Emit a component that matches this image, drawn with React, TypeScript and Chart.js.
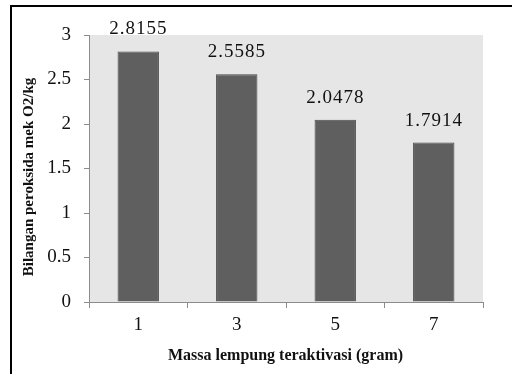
import React, { useEffect, useRef } from "react";
import { Chart, registerables } from "chart.js";

Chart.register(...registerables);

const categories = ["1", "3", "5", "7"];
const values = [2.8155, 2.5585, 2.0478, 1.7914];
const yTicks = [0, 0.5, 1, 1.5, 2, 2.5, 3];
const yTitle = "Bilangan peroksida mek O2/kg";
const xTitle = "Massa lempung teraktivasi (gram)";

const SERIF = "'Liberation Serif', 'Times New Roman', serif";

const frameAndBg = {
  id: "frameAndBg",
  beforeDraw(chart: any) {
    const { ctx, chartArea } = chart;
    ctx.save();
    ctx.fillStyle = "#ffffff";
    ctx.fillRect(0, 0, chart.width, chart.height);
    ctx.strokeStyle = "#000000";
    ctx.lineWidth = 2;
    ctx.strokeRect(11, 6, chart.width + 10, chart.height - 5);
    ctx.fillStyle = "#e6e6e6";
    ctx.fillRect(chartArea.left, chartArea.top, chartArea.right - chartArea.left, chartArea.bottom - chartArea.top);
    ctx.restore();
  },
};

const labelsAndTitles = {
  id: "labelsAndTitles",
  afterDatasetsDraw(chart: any) {
    const { ctx, chartArea } = chart;
    const meta = chart.getDatasetMeta(0);
    ctx.save();
    ctx.fillStyle = "#111111";
    ctx.font = `19px ${SERIF}`;
    (ctx as any).letterSpacing = "1px";
    ctx.textAlign = "center";
    ctx.textBaseline = "alphabetic";
    meta.data.forEach((bar: any, i: number) => {
      const v = chart.data.datasets[0].data[i] as number;
      ctx.fillText(v.toFixed(4), bar.x, bar.y - 17);
    });
    (ctx as any).letterSpacing = "0px";
    ctx.font = `bold 16px ${SERIF}`;
    ctx.textBaseline = "middle";
    ctx.fillText(xTitle, (chartArea.left + chartArea.right) / 2 - 0.5, 356);
    ctx.translate(29, 177);
    ctx.rotate(-Math.PI / 2);
    ctx.font = `bold 15px ${SERIF}`;
    ctx.fillText(yTitle, 0, 0);
    ctx.restore();
  },
};

export default function App() {
  const ref = useRef<HTMLCanvasElement>(null);
  useEffect(() => {
    if (!ref.current) return;
    const chart = new Chart(ref.current, {
      type: "bar",
      data: {
        labels: categories,
        datasets: [
          {
            data: values,
            backgroundColor: "#5f5f5f",
            borderColor: "#4a4a4a",
            borderWidth: 1,
            categoryPercentage: 1,
            barPercentage: 0.42,
          },
        ],
      },
      options: {
        responsive: false,
        animation: false,
        layout: { padding: { top: 35, right: 29, left: 0, bottom: 0 } },
        plugins: { legend: { display: false }, tooltip: { enabled: false } },
        scales: {
          x: {
            afterFit: (s: any) => {
              s.height = 72;
            },
            grid: {
              offset: true,
              drawOnChartArea: false,
              tickLength: 6,
              color: "#8c8c8c",
            },
            border: { color: "#8c8c8c", width: 1 },
            ticks: {
              color: "#111111",
              font: { family: SERIF, size: 19 },
              padding: 6,
            },
          },
          y: {
            min: 0,
            max: 3,
            afterFit: (s: any) => {
              s.width = 89;
            },
            afterBuildTicks: (s: any) => {
              s.ticks = yTicks.map((v) => ({ value: v }));
            },
            grid: {
              drawOnChartArea: false,
              tickLength: 5,
              color: "#8c8c8c",
            },
            border: { color: "#8c8c8c", width: 1 },
            ticks: {
              color: "#111111",
              font: { family: SERIF, size: 19 },
              padding: 13,
              callback: (v: any) => String(v),
            },
          },
        },
      },
      plugins: [frameAndBg, labelsAndTitles],
    });
    return () => chart.destroy();
  }, []);
  return (
    <div style={{ position: "absolute", left: 0, top: 0, width: 512, height: 374 }}>
      <canvas ref={ref} width={512} height={374} />
    </div>
  );
}
